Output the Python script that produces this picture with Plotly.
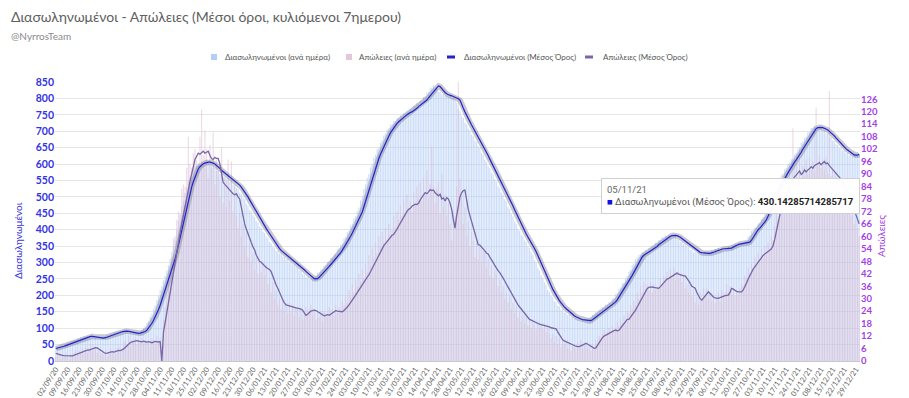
import pandas as pd
import plotly.graph_objects as go

# ---------------- data ----------------
start_date = "2020-09-02"

# Intubated, 7-day rolling average (left axis)
hosp_avg = [
    38,39,40,42,43,45,47, 49,51,53,55,57,59,61, 63,65,67,69,71,73,74, 75,75,74,74,73,72,71,
    70,70,71,73,75,77,79, 80,82,84,86,88,89,90, 91,91,90,89,87,86,84, 84,84,85,86,88,90,94,
    100,107,115,124,134,145,157, 170,185,200,215,230,245,260, 275,293,311,330,352,376,400,
    423,447,470,490,510,530,546, 561,575,585,592,597,601,603, 605,606,606,605,603,600,596,
    592,587,581,577,572,568,564, 560,556,552,548,544,540,536, 530,523,515,507,500,491,482,
    472,463,454,446,437,429,420, 412,404,396,388,381,373,365, 357,350,343,337,333,329,325,
    320,316,312,308,304,300,296, 292,288,283,278,273,268,263, 258,254,251,250,251,255,260,
    266,272,277,282,288,294,300, 306,311,316,322,330,338,346, 353,362,371,380,390,400,410,
    421,432,443,454,470,487,505, 522,540,556,572,588,603,617, 630,642,653,663,675,685,695,
    703,711,718,724,729,734,738, 742,746,750,754,757,759,762, 766,770,775,779,783,786,789,
    795,802,808,815,822,829,835, 838,836,830,822,818,814,811, 809,808,806,804,801,799,795,
    785,770,759,748,738,728,719, 710,701,692,683,674,666,657, 647,636,626,615,605,596,586,
    576,566,556,545,535,525,515, 505,495,484,472,461,450,438, 427,415,404,395,387,378,370,
    361,352,343,333,321,309,297, 285,274,263,252,241,230,219, 209,200,192,184,177,170,165,
    160,155,150,146,142,138,135, 132,130,128,126,125,124,123, 122,123,126,130,135,139,143,
    147,150,154,158,162,165,169, 173,177,180,187,195,202,210, 218,226,234,241,251,261,270,
    280,290,299,308,317,322,326, 329,332,335,338,341,345,349, 354,358,362,366,370,374,378,
    380,382,383,383,382,380,377, 373,369,365,361,358,354,350, 345,341,337,333,331,330,329,
    328,328,328,328,329,331,333, 335,337,339,341,342,342,342, 342,342,344,347,350,353,355,
    356,357,357,357,358,360,362, 368,376,385,394,400,405,410, 416,423,430.14,440,450,460,473,
    486,500,512,524,535,546,555, 564,573,582,590,598,606,613, 620,627,636,645,653,662,670,
    678,686,694,701,708,711,712, 712,711,710,707,704,700,696, 691,686,680,674,668,662,657,
    652,647,643,639,635,631,628, 627,627,630,
]

# Intubated, per day (left axis)
hosp_daily = [
    41,44,44,48,48,52,52, 56,56,60,60,64,64,68, 68,72,72,75,74,76,73, 75,72,73,70,71,69,72,
    72,76,76,80,79,83,83, 87,87,90,89,92,90,91, 88,88,85,85,83,85,84, 87,87,91,93,101,106,116,
    123,135,144,158,169,186,199, 216,229,246,259,276,292,312, 333,350,379,398,426,445,472,
    488,512,528,548,560,576,583, 594,596,603,601,608,604,606, 603,604,598,597,590,588,579,
    579,570,570,562,561,554,553, 546,545,538,537,528,524,513, 509,498,493,480,474,461,456,
    444,439,427,422,410,406,394, 390,379,375,363,359,348,345, 335,334,327,326,318,317,310,
    309,302,301,294,293,286,284, 276,274,266,264,256,255,249, 251,250,257,259,268,271,279,
    280,290,292,302,304,313,315, 324,328,340,344,355,360,373, 378,392,398,412,419,434,441,
    456,468,489,503,524,538,558, 570,590,601,619,628,644,651, 665,673,687,693,705,709,720,
    722,731,732,740,740,748,748, 756,755,761,760,768,768,777, 777,785,784,791,793,804,806,
    817,820,831,833,840,834,832, 820,820,812,813,807,810,804, 806,799,801,793,787,768,761,
    746,740,726,721,708,703,690, 685,672,668,655,649,634,628, 613,607,594,588,574,568,554,
    547,533,527,513,507,493,486, 470,463,448,440,425,417,402, 397,385,380,368,363,350,345,
    331,323,307,299,283,276,261, 254,239,232,217,211,198,194, 182,179,168,167,158,157,148,
    148,140,140,133,134,128,129, 125,127,122,124,121,125,125, 132,133,141,141,149,148,156,
    156,164,163,171,171,179,178, 189,193,204,208,220,224,236, 239,253,259,272,278,292,297,
    310,315,324,324,331,330,337, 336,343,343,351,352,360,360, 368,368,376,376,382,380,385,
    381,384,378,379,371,371,363, 363,356,356,348,347,339,339, 331,333,328,331,326,330,326,
    330,327,333,331,337,335,341, 339,344,340,344,340,344,342, 349,348,355,353,358,355,359,
    355,360,358,364,366,378,383, 396,398,407,408,418,421,432, 438,452,458,475,484,502,510,
    526,533,548,553,566,571,584, 588,600,604,615,618,629,634, 647,651,664,668,680,684,696,
    699,710,709,714,710,713,708, 709,702,702,694,693,684,682, 672,670,660,659,650,649,641,
    641,633,633,626,629,625,632, 630,628,631,
]

# Deaths, 7-day rolling average (right axis)
deaths_avg = [
    3.7,3.4,3.1,2.9,2.7,2.6,2.5, 2.4,2.4,2.5,2.5,2.8,3.2,3.6, 4.0,4.3,4.6,4.8,5.0,5.2,5.3,
    5.6,5.9,6.2,6.4,6.3,5.9,5.3, 4.7,4.1,3.7,3.8,4.0,4.2,4.5, 4.3,4.6,4.9,5.1,5.0,5.3,5.8,
    6.6,7.5,8.5,8.9,9.2,9.4,9.6, 9.8,9.6,9.4,9.2,9.5,9.3,9.1, 9.3,9.0,8.8,9.1,9.4,9.2,9.3,
    9.3,0,14,18.5,23.5,28,33, 38,43,48,52.5,57,61.5,66, 70.5,74.5,79,83,86.5,90,94,
    97,98.5,100,99.5,100.5,101,100, 100.5,101,99,97.5,97,98,97.5, 97.5,95,91,86,85,84,83,
    82,81.5,80.5,80,80.5,79,78, 74,69,66,63.5,61,59,57, 55,53.5,51,49.5,48,47.5,46.5,
    45.5,45,44.5,44,43,40.5,38.5, 36.6,35,33,31,29.5,28,27, 26.8,26.5,26.3,26,25.8,25.6,25.4,
    25.3,25,24.5,23.5,22,22.5,23.3, 24,24.2,24.5,24.3,23.8,23,22.4, 22,21.8,22,22.3,22,22.5,23,
    23.8,24.2,24,24,23.7,23.7,24.3, 25,26,27,28,29.2,30.5,31.7, 33,34.2,35.5,36.8,38,39.3,40.4,
    41.4,43,44.5,46,47.8,49.5,51.5, 53,54,55.5,56.5,57.5,59,60, 60.5,61,62,63.5,65,66.5,68,
    69.5,71,72,73,73.5,74.5,75, 75.5,75.3,76,77.5,79,80,81, 80.5,81.4,82.5,82,82.3,81,80,
    79.5,80.3,78,78.5,77,78.6,78, 76,73,68,64,70,75,79, 81,82,82.3,77,73,70,67,
    64,61.5,59,56,55.8,55,54, 53,52,51.5,50,49,47.5,46, 44.5,43.5,42.5,41.5,40,38.5,37,
    35.5,34,32.5,31.7,30,28.5,27, 26,25,24,23,22,21,20, 19.7,19.3,18.7,18.3,18,17.7,17.5,
    17.3,17,17,16.5,16.4,16,15.8, 15.7,15.5,14,12.5,11,10.2,9.7, 9.3,9,8.6,8.2,7.8,7.4,7.1,
    6.9,6.9,7.3,7.8,8.3,8.5,8.2, 7.6,7.1,6.6,6.1,6.3,7.5,9, 10.3,11.2,12,12.5,12.7,13.2,13.8,
    14.2,14.6,14.9,14.5,14.8,15.8,17, 18.2,19.3,20,20,21,22.5,23.5, 24.5,26,27.5,29,30.5,32.5,34,
    34.8,35.4,35.7,35.7,35.4,35.2,35, 35,35.8,36.8,37.8,38.7,39.4,39.8, 40.3,41,41.5,42,42.3,41.8,41.4,
    41.2,41,41,40,38.7,37.3,36, 35.5,35,33,31.5,30,29.3,30.3, 31.3,32.2,33.3,32.5,31.5,30.8,30.4,
    30.2,30.2,30.5,30.9,31.2,31.5,31.6, 31.7,33,35,34.6,34,33.5,33.3, 33.3,33.3,34.2,35.5,37.5,39.5,41.3,
    43,44.2,45.3,46.5,47.8,49,50, 50.8,51.5,52,52.6,53.3,54,55.5, 58.5,62.5,67,70,72.5,75,78,
    80.5,82.5,84.5,86,87.5,88.6,89.5, 90.5,91.5,89.8,90.5,92,91,92, 92.5,93.5,92.8,94,94.6,95,95.5,
    94.5,95.2,96,95,95.3,94,93, 92,91,90,89.5,88.5,87.6,86, 84.5,83,81.5,79.5,77.5,75.5,73,
    70.5,68,66,
]

# Deaths, per day (right axis)
deaths_daily = [
    2,4,3,1,3,2,4, 2,1,3,2,4,5,3, 5,4,6,5,7,4,6, 8,5,7,6,4,5,3, 4,3,5,2,4,6,4, 5,3,6,7,4,5,9,
    10,8,12,7,10,9,11, 8,10,9,11,8,10,9, 9,7,11,10,8,12,9, 11,0,20,26,33,38,45,
    50,59,58,68,72,71,83, 85,84,93,108,95,93,100, 102,97,94,108,121,99,111, 102,88,104,93,110,85,97,
    92,79,103,76,88,74,97, 77,96,72,84,70,64,71, 60,66,55,62,50,57,48, 52,44,50,42,48,43,46,
    41,46,37,40,33,38,30, 34,27,30,25,29,24,28, 23,28,24,27,22,26,25, 21,25,20,24,26,22,25,
    27,22,25,20,23,21,24, 19,24,23,21,26,22,25, 22,27,23,26,24,29,27, 31,28,34,31,37,33,39,
    36,42,38,44,40,47,43, 51,46,54,50,57,52,60, 55,62,57,64,58,66,60, 63,70,64,72,68,75,70,
    78,71,80,73,77,72,81, 76,84,78,86,77,88,80, 92,78,85,103,84,76,83, 86,71,90,74,80,70,76,
    66,58,72,70,84,140,88, 80,66,74,60,67,55,62, 58,50,57,49,55,48,53, 52,45,49,41,46,40,44,
    42,36,39,33,36,30,33, 28,31,25,28,23,26,21, 24,19,22,18,21,17,20, 16,19,17,15,19,16,18,
    15,18,14,17,13,11,13, 9,12,8,11,7,10,8, 9,6,8,5,8,7,6, 9,7,10,6,8,9,6, 7,5,8,6,10,8,12,
    10,13,15,11,14,16,13, 17,14,16,19,17,20,18, 22,19,24,23,27,25,29, 27,33,30,36,33,38,34,
    37,34,38,33,37,34,36, 35,40,37,41,38,43,40, 44,40,45,39,43,40,42, 38,42,35,37,33,38,31,
    34,28,31,27,33,30,35, 31,35,30,33,29,32,28, 30,33,29,34,31,33,37, 33,36,32,35,31,34,32,
    35,37,36,41,39,45,42, 47,44,50,46,52,48,54, 50,55,51,57,54,60,58, 65,73,68,79,74,85,80,
    88,82,91,84,112,86,95, 88,96,87,94,89,97,90, 98,92,96,91,122,94,99, 93,97,92,98,90,130,89,
    92,86,91,84,88,82,87, 79,83,74,78,70,73,66, 68,64,60,
]

n_days = len(hosp_avg)
dates = [d.strftime("%d/%m/%y") for d in pd.date_range(start_date, periods=n_days, freq="D")]
tick_labels = dates[::7]

left_ticks = list(range(0, 851, 50))
right_ticks = list(range(0, 127, 6))

legend_names = ["Διασωληνωμένοι (ανά ημέρα)", "Απώλειες (ανά ημέρα)",
                "Διασωληνωμένοι (Μέσος Όρος)", "Απώλειες (Μέσος Όρος)"]

# ---------------- figure ----------------
FONT = "Lato"
BLUE_TXT = "#3434e0"
PURPLE_TXT = "#a43ee6"
BLUE_BAR = "rgba(172,200,245,0.62)"
PINK_BAR = "rgba(222,185,208,0.5)"
BLUE_LINE = "#2222d0"
PURPLE_LINE = "#7866a6"

fig = go.Figure()

fig.add_trace(go.Bar(
    x=dates, y=hosp_daily, name=legend_names[0], showlegend=False,
    marker=dict(color=BLUE_BAR, line=dict(width=0)),
    yaxis="y", hoverinfo="skip"))
fig.add_trace(go.Bar(
    x=dates, y=deaths_daily, name=legend_names[1], showlegend=False,
    marker=dict(color=PINK_BAR, line=dict(width=0)),
    yaxis="y2", hoverinfo="skip"))
fig.add_trace(go.Scatter(
    x=dates, y=hosp_avg, mode="lines", showlegend=False,
    line=dict(color="rgba(110,110,130,0.38)", width=5.5),
    yaxis="y3", hoverinfo="skip"))
fig.add_trace(go.Scatter(
    x=dates, y=hosp_avg, mode="lines", name=legend_names[2], showlegend=False,
    line=dict(color=BLUE_LINE, width=1.2), yaxis="y3"))
fig.add_trace(go.Scatter(
    x=dates, y=deaths_avg, mode="lines", name=legend_names[3], showlegend=False,
    line=dict(color=PURPLE_LINE, width=1.3), yaxis="y4"))

L, R, T, B = 55, 49, 82, 37
W, H = 909, 398
pw, ph = W - L - R, H - T - B


def px(x):
    return (x - L) / pw


def py(y):
    return (H - B - y) / ph


fig.update_layout(
    width=W, height=H,
    margin=dict(l=L, r=R, t=T, b=B, autoexpand=False),
    paper_bgcolor="white", plot_bgcolor="white",
    font=dict(family=FONT, color="#555"),
    barmode="overlay", bargap=0.28,
    showlegend=False,
    xaxis=dict(type="category", range=[-0.5, n_days - 0.5],
               tickmode="array", tickvals=tick_labels, ticktext=tick_labels,
               tickangle=-57, tickfont=dict(size=7.5, color="#666", family=FONT),
               showgrid=False, showline=True, linecolor="#c8c8c8", linewidth=1,
               ticks="", automargin=False, zeroline=False),
    yaxis=dict(range=[0, 850], tickmode="array", tickvals=left_ticks,
               tickfont=dict(size=10.5, color=BLUE_TXT, family=FONT, weight="bold"),
               showgrid=True, gridcolor="#e6e6e6", gridwidth=1, zeroline=False,
               ticks="", automargin=False),
    yaxis2=dict(range=[0, 134.3], overlaying="y", side="right", tickmode="array",
                tickvals=right_ticks,
                tickfont=dict(size=9.5, color=PURPLE_TXT, family=FONT, weight="bold"),
                showgrid=False, zeroline=False, ticks="", automargin=False),
    yaxis3=dict(range=[0, 850], overlaying="y", visible=False, showgrid=False),
    yaxis4=dict(range=[0, 134.3], overlaying="y", visible=False, showgrid=False),
)

annotations = [
    dict(text="Διασωληνωμένοι - Απώλειες (Μέσοι όροι, κυλιόμενοι 7ημερου)",
         x=px(9), y=py(17), xref="paper", yref="paper", xanchor="left", yanchor="middle",
         showarrow=False, font=dict(size=14, color="#606060", family=FONT)),
    dict(text="@NyrrosTeam", x=px(9), y=py(36), xref="paper", yref="paper",
         xanchor="left", yanchor="middle", showarrow=False,
         font=dict(size=10, color="#8a8a8a", family=FONT)),
    dict(text="Διασωληνωμένοι", x=px(18), y=py(241), xref="paper", yref="paper",
         xanchor="center", yanchor="middle", textangle=-90, showarrow=False,
         font=dict(size=10, color=BLUE_TXT, family=FONT)),
    dict(text="Απώλειες", x=px(881), y=py(236), xref="paper", yref="paper",
         xanchor="center", yanchor="middle", textangle=-90, showarrow=False,
         font=dict(size=10, color=PURPLE_TXT, family=FONT)),
    dict(text=("<span style='color:#666'>05/11/21</span><br>"
               "<span style='color:#1010e0'>■</span> Διασωληνωμένοι (Μέσος Όρος): "
               "<b style='color:#222'>430.14285714285717</b>"),
         x=px(601), y=py(178), xref="paper", yref="paper", xanchor="left", yanchor="top",
         align="left", showarrow=False, bgcolor="rgba(255,255,255,0.97)",
         bordercolor="#d0d0d0", borderwidth=1, borderpad=5,
         font=dict(size=9.5, color="#555", family="Roboto")),
]

# legend drawn by hand (swatch + text) to match the compact reference legend
legend_text_x = [223, 357, 462, 601]
legend_sw = [("rect", 211, 217, BLUE_BAR.replace("0.62", "0.9")),
             ("rect", 346, 352, PINK_BAR.replace("0.5", "0.8")),
             ("line", 447, 455, BLUE_LINE),
             ("line", 585, 593, PURPLE_LINE)]
shapes = []
ly = 57
for (kind, x0, x1, col), tx, name in zip(legend_sw, legend_text_x, legend_names):
    if kind == "rect":
        shapes.append(dict(type="rect", xref="paper", yref="paper",
                           x0=px(x0), x1=px(x1), y0=py(ly + 3), y1=py(ly - 3),
                           fillcolor=col, line=dict(width=0)))
    else:
        shapes.append(dict(type="line", xref="paper", yref="paper",
                           x0=px(x0), x1=px(x1), y0=py(ly), y1=py(ly),
                           line=dict(color=col, width=3)))
    annotations.append(dict(text=name, x=px(tx), y=py(ly), xref="paper", yref="paper",
                            xanchor="left", yanchor="middle", showarrow=False,
                            font=dict(size=8, color="#555", family=FONT)))

fig.update_layout(annotations=annotations, shapes=shapes)

fig.write_html(
    "out.html",
    config={"displayModeBar": False},
    post_script="document.body.style.margin='0px';document.body.style.overflow='hidden';",
)
